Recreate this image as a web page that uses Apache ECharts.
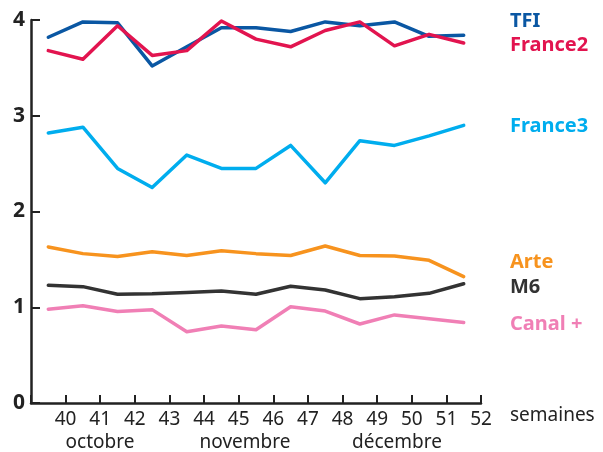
<!DOCTYPE html>
<html>
<head>
<meta charset="utf-8">
<script src="https://cdn.jsdelivr.net/npm/echarts@6/dist/echarts.min.js"></script>
<style>
  html, body { margin: 0; padding: 0; background: #fff; }
  #chart { width: 603px; height: 452px; }
</style>
</head>
<body>
<div id="chart"></div>
<script>
// semaines (points placed mid-week)
const weeks = [39.5, 40.5, 41.5, 42.5, 43.5, 44.5, 45.5, 46.5, 47.5, 48.5, 49.5, 50.5, 51.5];
const weekTicks = [40, 41, 42, 43, 44, 45, 46, 47, 48, 49, 50, 51, 52];
const months = ['octobre', 'novembre', 'décembre'];

const tf1 = [3.82, 3.98, 3.97, 3.52, 3.72, 3.92, 3.92, 3.88, 3.98, 3.94, 3.98, 3.83, 3.84];
const france2 = [3.68, 3.59, 3.94, 3.63, 3.68, 3.99, 3.80, 3.72, 3.89, 3.98, 3.73, 3.85, 3.76];
const france3 = [2.82, 2.88, 2.45, 2.25, 2.59, 2.45, 2.45, 2.69, 2.30, 2.74, 2.69, 2.79, 2.90];
const arte = [1.63, 1.56, 1.53, 1.58, 1.54, 1.59, 1.56, 1.54, 1.64, 1.54, 1.535, 1.49, 1.32];
const m6 = [1.23, 1.215, 1.135, 1.14, 1.155, 1.17, 1.135, 1.22, 1.18, 1.09, 1.11, 1.145, 1.245];
const canal = [0.98, 1.015, 0.955, 0.975, 0.745, 0.805, 0.765, 1.005, 0.96, 0.825, 0.92, 0.88, 0.84];

const channels = [
  { name: 'TFI', data: tf1, color: '#0a57a3', labelY: 20 },
  { name: 'France2', data: france2, color: '#e2144f', labelY: 44 },
  { name: 'France3', data: france3, color: '#00adee', labelY: 125 },
  { name: 'Arte', data: arte, color: '#f7931e', labelY: 261 },
  { name: 'M6', data: m6, color: '#333333', labelY: 286 },
  { name: 'Canal +', data: canal, color: '#f07fb5', labelY: 323 }
];

const font = 'Noto Sans';
const monthX = [100, 245, 397];

const chart = echarts.init(document.getElementById('chart'));

const option = {
  animation: false,
  grid: { left: 31, right: 122, top: 20, bottom: 49 },
  xAxis: {
    type: 'value',
    min: 39,
    max: 52,
    interval: 1,
    splitLine: { show: false },
    axisLine: { lineStyle: { color: '#222', width: 2.5 } },
    axisTick: { inside: true, length: 8, lineStyle: { color: '#222', width: 2 } },
    axisLabel: {
      margin: 7,
      color: '#222',
      fontFamily: font,
      fontSize: 19,
      formatter: v => (weekTicks.indexOf(v) >= 0 ? String(v) : '')
    }
  },
  yAxis: {
    type: 'value',
    min: 0,
    max: 4,
    interval: 1,
    splitLine: { show: false },
    axisLine: { show: true, lineStyle: { color: '#222', width: 2.5 } },
    axisTick: { show: true, inside: true, length: 9, lineStyle: { color: '#222', width: 2 } },
    axisLabel: {
      margin: 6,
      color: '#222',
      fontFamily: font,
      fontWeight: 'bold',
      fontSize: 21
    }
  },
  series: channels.map(c => ({
    name: c.name,
    type: 'line',
    symbol: 'none',
    lineStyle: { color: c.color, width: 3.5, cap: 'round', join: 'round' },
    data: weeks.map((w, i) => [w, c.data[i]])
  })),
  graphic: [
    ...channels.map(c => ({
      type: 'text',
      left: 510,
      top: c.labelY - 9,
      style: {
        text: c.name,
        fill: c.color,
        font: 'bold 20px "' + font + '"'
      }
    })),
    ...months.map((m, i) => ({
      type: 'text',
      x: monthX[i],
      y: 443,
      style: {
        text: m,
        fill: '#222',
        font: '19px "' + font + '"',
        align: 'center',
        verticalAlign: 'middle'
      }
    })),
    {
      type: 'text',
      left: 510,
      top: 406,
      style: { text: 'semaines', fill: '#222', font: '19px "' + font + '"' }
    }
  ]
};

chart.setOption(option);
</script>
</body>
</html>
